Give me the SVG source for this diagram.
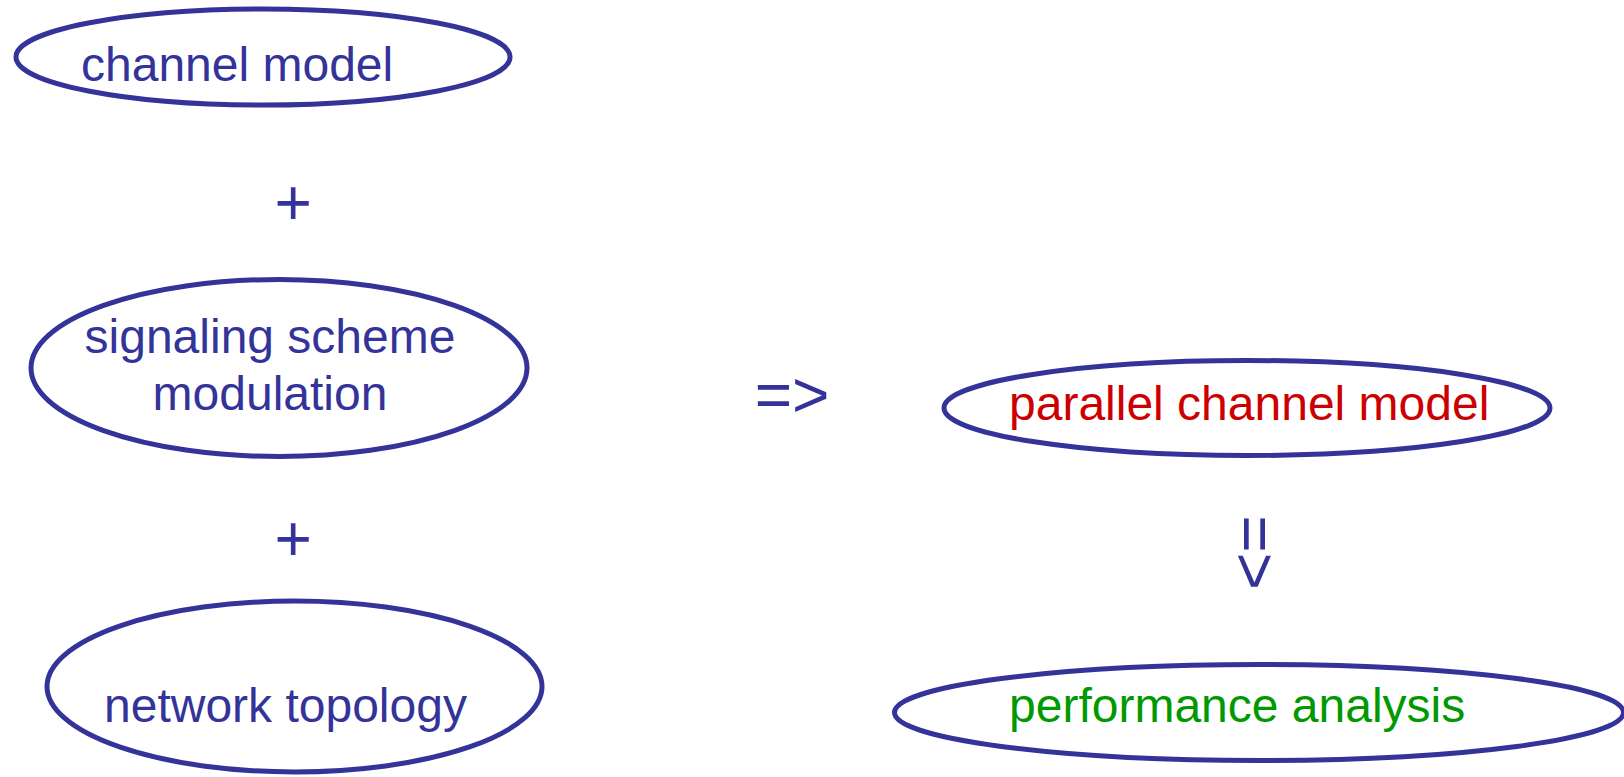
<svg xmlns="http://www.w3.org/2000/svg" width="1624" height="777" viewBox="0 0 1624 777">
  <style>
    .node { fill: #ffffff; stroke: #333399; stroke-width: 5; }
    .label { font-family: "Liberation Sans", Arial, sans-serif; font-size: 48px; fill: #333399; }
    .op { font-family: "Liberation Sans", Arial, sans-serif; font-size: 64px; fill: #333399; text-anchor: middle; }
    .red { fill: #cc0000; }
    .green { fill: #009900; }
  </style>
  <rect width="1624" height="777" fill="#ffffff"/>

  <g id="channel-model">
    <ellipse class="node" cx="263" cy="57" rx="247" ry="48"/>
    <text class="label" x="81" y="81">channel model</text>
  </g>

  <g id="signaling-scheme">
    <ellipse class="node" cx="279" cy="368" rx="248" ry="88.5"/>
    <text class="label" x="270" y="353" text-anchor="middle">signaling scheme</text>
    <text class="label" x="270" y="410" text-anchor="middle">modulation</text>
  </g>

  <g id="network-topology">
    <ellipse class="node" cx="294.5" cy="686.5" rx="247.5" ry="85.5"/>
    <text class="label" x="104" y="722">network topology</text>
  </g>

  <g id="parallel-channel-model">
    <ellipse class="node" cx="1247" cy="408" rx="303" ry="47.5"/>
    <text class="label red" x="1009" y="420">parallel channel model</text>
  </g>

  <g id="performance-analysis">
    <ellipse class="node" cx="1259" cy="712.5" rx="364.5" ry="48"/>
    <text class="label green" x="1009" y="722">performance analysis</text>
  </g>

  <g id="connectors">
    <text class="op" x="293.3" y="225.3">+</text>
    <text class="op" x="293.3" y="561">+</text>
    <text class="op" x="792" y="417">=&gt;</text>
    <text class="op" transform="translate(1232.5,552.5) rotate(90)" x="0" y="0">=&gt;</text>
  </g>
</svg>
